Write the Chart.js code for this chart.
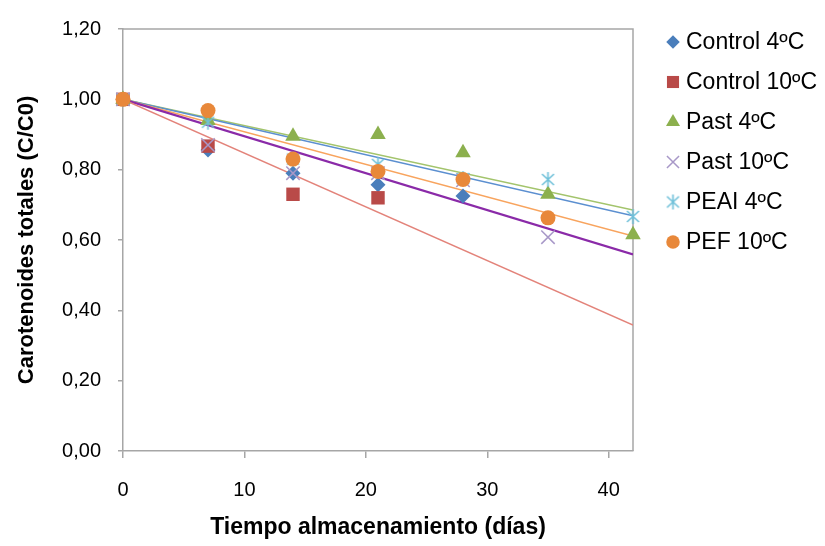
<!DOCTYPE html>
<html>
<head>
<meta charset="utf-8">
<script src="https://cdn.jsdelivr.net/npm/chart.js@4.4.1/dist/chart.umd.min.js"></script>
<style>
  html, body { margin: 0; padding: 0; background: #fff; }
  canvas { display: block; }
</style>
</head>
<body>
<canvas id="chart" width="825" height="546"></canvas>
<script>
// storage days
const dias = [0, 7, 14, 21, 28, 35, 42];

// relative carotenoid content C/C0 per treatment (null = not measured)
const control4 = [1.00, 0.856, 0.790, 0.757, 0.725, null, null];
const control10 = [1.00, 0.867, 0.730, 0.720, null, null, null];
const past4 = [1.00, 0.940, 0.895, 0.900, 0.848, 0.730, 0.615];
const past10 = [1.00, 0.870, 0.790, 0.790, 0.770, 0.608, null];
const peai4 = [1.00, 0.935, 0.830, 0.815, 0.775, 0.772, 0.667];
const pef10 = [1.00, 0.968, 0.830, 0.795, 0.772, 0.663, null];

const seriesNames = ['Control 4ºC', 'Control 10ºC', 'Past 4ºC', 'Past 10ºC', 'PEAI 4ºC', 'PEF 10ºC'];

// linear trend lines, value at start and end of the x range
const trendX = [0, 42];
const trendPast4 = [1.00, 0.685];
const trendPeai4 = [1.00, 0.669];
const trendPef10 = [1.00, 0.611];
const trendPast10 = [1.00, 0.559];
const trendControl10 = [1.00, 0.358];

const xTicks = [0, 10, 20, 30, 40];
const yTickLabels = ['0,00', '0,20', '0,40', '0,60', '0,80', '1,00', '1,20'];

const FONT = '"Liberation Sans", Arial, sans-serif';

// asterisk marker: vertical stroke plus an X
function asterisk(color) {
  const c = document.createElement('canvas');
  c.width = 17; c.height = 17;
  const g = c.getContext('2d');
  g.strokeStyle = color;
  g.lineWidth = 1.6;
  g.beginPath();
  g.moveTo(8.5, 1); g.lineTo(8.5, 16);
  g.moveTo(2.5, 3); g.lineTo(14.5, 14);
  g.moveTo(14.5, 3); g.lineTo(2.5, 14);
  g.stroke();
  return c;
}

function pts(values) {
  return dias.map((d, i) => ({ x: d, y: values[i] })).filter(p => p.y !== null);
}
function trend(values) {
  return trendX.map((d, i) => ({ x: d, y: values[i] }));
}

const markers = [
  { data: control4, style: 'rectRot', color: '#4a7ebb', r: 7.5 },
  { data: control10, style: 'rect', color: '#b94a48', r: 9.5 },
  { data: past4, style: 'triangle', color: '#8cb04e', r: 9 },
  { data: past10, style: 'crossRot', color: '#a898c8', r: 9.5, line: 1.5 },
  { data: peai4, style: asterisk('#6ec0d9'), color: '#6ec0d9', r: 8, line: 1.5 },
  { data: pef10, style: 'circle', color: '#e8883a', r: 7.5 }
];

const datasets = markers.map((m, i) => ({
  type: 'scatter',
  label: seriesNames[i],
  data: pts(m.data),
  pointStyle: m.style,
  pointRadius: m.r,
  pointHoverRadius: m.r,
  backgroundColor: m.color,
  borderColor: m.color,
  pointBorderWidth: m.line || 0,
  showLine: false,
  clip: false,
  order: 10 - i
}));

const trends = [
  { data: trendControl10, color: '#e3837a', w: 1.5 },
  { data: trendPast10, color: '#8a2aa8', w: 2.2 },
  { data: trendPef10, color: '#f8a45e', w: 1.5 },
  { data: trendPeai4, color: '#5b8fd0', w: 1.5 },
  { data: trendPast4, color: '#a3c46c', w: 1.5 }
];
trends.forEach((t, i) => {
  datasets.push({
    type: 'line',
    label: 'trend' + i,
    data: trend(t.data),
    borderColor: t.color,
    borderWidth: t.w,
    pointRadius: 0,
    fill: false,
    order: 20 + i
  });
});

// plot area frame
const framePlugin = {
  id: 'frame',
  beforeDatasetsDraw(chart) {
    const { ctx, chartArea: a } = chart;
    ctx.save();
    ctx.strokeStyle = '#a6a6a6';
    ctx.lineWidth = 1.5;
    ctx.beginPath();
    ctx.moveTo(a.left, a.top);
    ctx.lineTo(a.right, a.top);
    ctx.lineTo(a.right, a.bottom);
    ctx.stroke();
    ctx.restore();
  }
};

// legend on the right
const legendPlugin = {
  id: 'sideLegend',
  afterDraw(chart) {
    const ctx = chart.ctx;
    ctx.save();
    ctx.font = '23px ' + FONT;
    ctx.textBaseline = 'middle';
    seriesNames.forEach((name, i) => {
      const ds = chart.data.datasets[i];
      const y = 42 + i * 40;
      ctx.fillStyle = ds.backgroundColor;
      ctx.strokeStyle = ds.borderColor;
      ctx.lineWidth = ds.pointBorderWidth || 1;
      Chart.helpers.drawPoint(ctx, {
        pointStyle: ds.pointStyle,
        radius: ds.pointRadius * 0.9,
        rotation: 0,
        borderWidth: ds.pointBorderWidth
      }, 673, y);
      ctx.fillStyle = '#000';
      ctx.fillText(name, 686, y + 1);
    });
    ctx.restore();
  }
};

new Chart(document.getElementById('chart'), {
  data: { datasets },
  options: {
    responsive: false,
    animation: false,
    devicePixelRatio: 1,
    layout: { padding: { top: 15, right: 192, left: 0, bottom: 0 } },
    plugins: { legend: { display: false }, tooltip: { enabled: false } },
    scales: {
      x: {
        type: 'linear',
        min: 0,
        max: 42,
        afterBuildTicks: s => { s.ticks = xTicks.map(v => ({ value: v })); },
        afterFit: s => { s.height = 95; },
        border: { color: '#a6a6a6', width: 1.5 },
        grid: { drawOnChartArea: false, drawTicks: true, tickLength: 7, color: '#a6a6a6', lineWidth: 1.5 },
        ticks: { color: '#000', font: { family: FONT, size: 20 }, padding: 20 },
        title: {
          display: true,
          text: 'Tiempo almacenamiento (días)',
          color: '#000',
          font: { family: FONT, size: 23, weight: 'bold' },
          padding: { top: 0, bottom: 5 }
        }
      },
      y: {
        type: 'linear',
        min: 0,
        max: 1.2,
        ticks: {
          stepSize: 0.2,
          color: '#000',
          font: { family: FONT, size: 20 },
          padding: 17,
          callback: (v, i) => yTickLabels[i]
        },
        afterFit: s => { s.width = 123; },
        border: { color: '#a6a6a6', width: 1.5 },
        grid: { drawOnChartArea: false, drawTicks: true, tickLength: 5, color: '#a6a6a6', lineWidth: 1.5 },
        title: {
          display: true,
          text: 'Carotenoides totales (C/C0)',
          color: '#000',
          font: { family: FONT, size: 22, weight: 'bold' },
          padding: { top: 14, bottom: 0 }
        }
      }
    }
  },
  plugins: [framePlugin, legendPlugin]
});
</script>
</body>
</html>
